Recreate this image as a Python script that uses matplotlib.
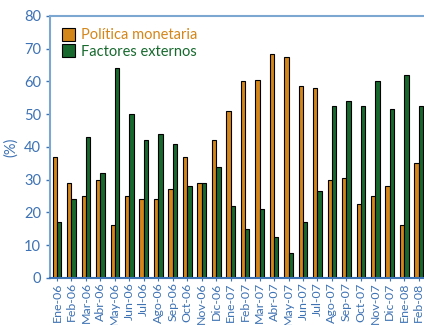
import matplotlib.pyplot as plt
import numpy as np

meses = ['Ene-06', 'Feb-06', 'Mar-06', 'Abr-06', 'May-06', 'Jun-06', 'Jul-06',
         'Ago-06', 'Sep-06', 'Oct-06', 'Nov-06', 'Dic-06', 'Ene-07', 'Feb-07',
         'Mar-07', 'Abr-07', 'May-07', 'Jun-07', 'Jul-07', 'Ago-07', 'Sep-07',
         'Oct-07', 'Nov-07', 'Dic-07', 'Ene-08', 'Feb-08']
politica = [37, 29, 25, 30, 16, 25, 24, 24, 27, 37, 29, 42, 51, 60, 60.5, 68.5,
            67.5, 58.5, 58, 30, 30.5, 22.5, 25, 28, 16, 35]
externos = [17, 24, 43, 32, 64, 50, 42, 44, 41, 28, 29, 34, 22, 15, 21, 12.5,
            7.5, 17, 26.5, 52.5, 54, 52.5, 60, 51.5, 62, 52.5]

azul = '#3d72b4'
naranja = '#d4861a'
verde = '#17692e'
plt.rcParams['font.family'] = ['Lato', 'DejaVu Sans']

fig = plt.figure(figsize=(4.24, 3.25), dpi=100)
ax = fig.add_axes([0.118, 0.145, 0.885, 0.806])

x = np.arange(len(meses))
w = 0.3
# sombra gris
ax.bar(x - w / 2 + 0.06, politica, w, color='#bbbbbb', zorder=1)
ax.bar(x + w / 2 + 0.06, externos, w, color='#bbbbbb', zorder=1)
ax.bar(x - w / 2, politica, w, color=naranja, edgecolor='black', linewidth=0.8,
       label='Política monetaria', zorder=2)
ax.bar(x + w / 2, externos, w, color=verde, edgecolor='black', linewidth=0.8,
       label='Factores externos', zorder=2)

ax.set_ylim(0, 80)
ax.set_xlim(-0.48, 25.45)
ax.set_yticks(range(0, 81, 10))
ax.set_xticks(x)
ax.set_xticklabels(meses, rotation=90)
ax.tick_params(axis='y', colors=azul, labelsize=10.5, length=3, width=1)
ax.tick_params(axis='x', colors=azul, labelsize=8.9, length=2, pad=1.2)
ax.set_ylabel('(%)', color=azul, fontsize=10.5, labelpad=4)

for s in ['left', 'top']:
    ax.spines[s].set_color('#7ba7d0')
    ax.spines[s].set_linewidth(1.5)
ax.spines['bottom'].set_color(azul)
ax.spines['bottom'].set_linewidth(1.5)
ax.spines['right'].set_visible(False)

leg = ax.legend(loc='upper left', frameon=False, fontsize=10.5,
                handlelength=0.9, handleheight=1.0, handletextpad=0.4,
                labelspacing=0.15, borderaxespad=0.4)
for t, c in zip(leg.get_texts(), [naranja, verde]):
    t.set_color(c)

plt.savefig('out.png', dpi=100)
